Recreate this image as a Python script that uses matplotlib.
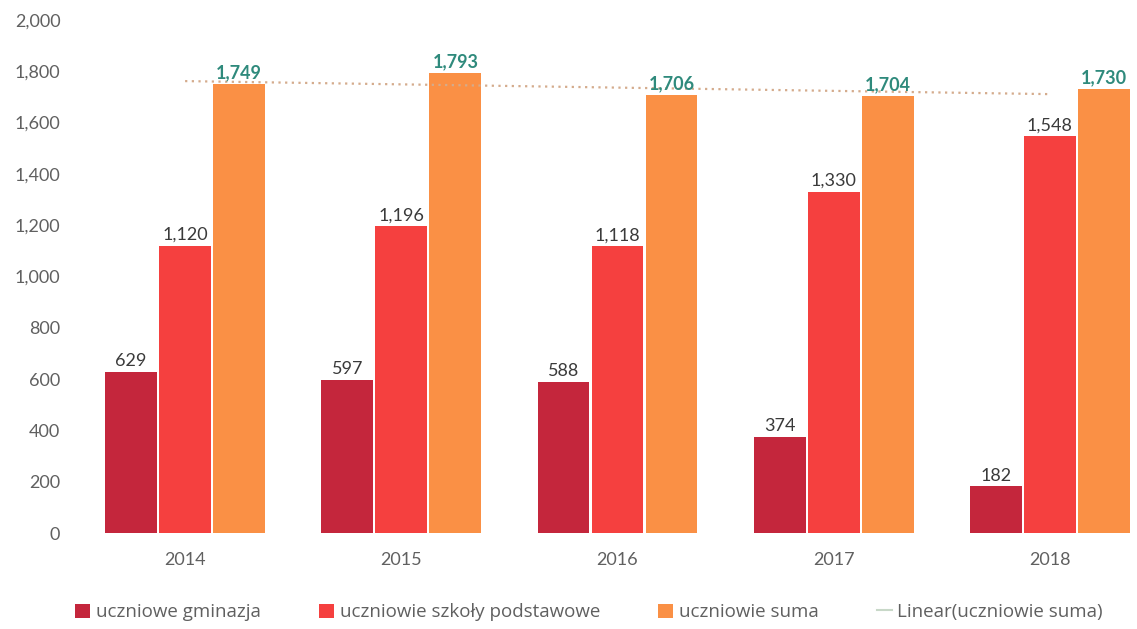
import matplotlib
matplotlib.use("Agg")
import matplotlib.pyplot as plt
from matplotlib.lines import Line2D
import numpy as np

years = ['2014', '2015', '2016', '2017', '2018']
gimnazja = [629, 597, 588, 374, 182]
podstawowe = [1120, 1196, 1118, 1330, 1548]
suma = [1749, 1793, 1706, 1704, 1730]

plt.rcParams['font.family'] = ['Lato', 'DejaVu Sans']

fig = plt.figure(figsize=(11.37, 6.29), dpi=100)
ax = fig.add_axes([77 / 1137, 96 / 629, 1081 / 1137, 513 / 629])

x = np.arange(len(years))
width = 0.24
off = 0.25
b1 = ax.bar(x - off, gimnazja, width, color='#c4263c', label='uczniowe gminazja')
b2 = ax.bar(x, podstawowe, width, color='#f5403f', label='uczniowie szkoły podstawowe')
b3 = ax.bar(x + off, suma, width, color='#fa9045', label='uczniowie suma')

# linear trend of the sum series
k, b = np.polyfit(x, suma, 1)
ax.plot(x, k * x + b, linestyle=(0, (1, 2)), color='#d4ab8c', linewidth=1.6, zorder=1)

fmt = lambda v: f'{v:,}'
ax.bar_label(b1, labels=[fmt(v) for v in gimnazja], padding=2, fontsize=13, color='#3a3a3a')
ax.bar_label(b2, labels=[fmt(v) for v in podstawowe], padding=2, fontsize=13, color='#3a3a3a')
ax.bar_label(b3, labels=[fmt(v) for v in suma], padding=2, fontsize=13, color='#2f8a7c',
             fontweight='bold')

ax.set_ylim(0, 2000)
ax.set_xlim(-0.5, 4.5)
ax.set_yticks(range(0, 2001, 200))
ax.set_yticklabels([fmt(v) for v in range(0, 2001, 200)])
ax.set_xticks(x, years)
ax.tick_params(axis='both', length=0, labelsize=13, labelcolor='#606060')
ax.tick_params(axis='y', pad=12)
ax.tick_params(axis='x', pad=14)
for s in ax.spines.values():
    s.set_visible(False)

trend = Line2D([], [], color='#c8d8c8', linewidth=1.5)
ax.legend([b1, b2, b3, trend],
          ['uczniowe gminazja', 'uczniowie szkoły podstawowe', 'uczniowie suma',
           'Linear(uczniowie suma)'],
          loc='lower left', bbox_to_anchor=(-0.017, -0.205), ncol=4, frameon=False,
          prop={'family': 'Open Sans', 'size': 13.5}, labelcolor='#606060',
          handlelength=0.8, handleheight=0.8, handletextpad=0.3, columnspacing=3.1)
leg = ax.get_legend()
leg.legend_handles[3].set_linestyle('-')

fig.savefig('out.png', dpi=100)
